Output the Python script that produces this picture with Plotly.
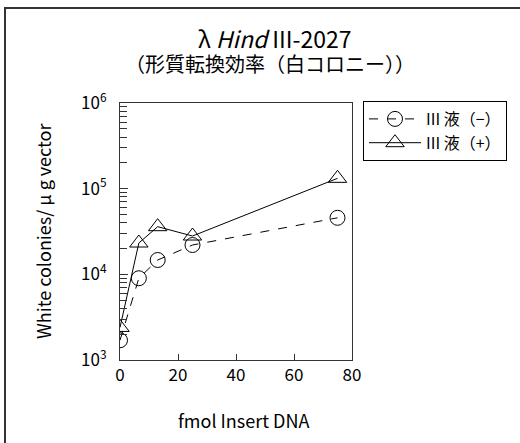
import plotly.graph_objects as go

x_minus = [0, 6.5, 13, 25, 75]
y_minus = [1700, 9000, 14700, 22000, 45700]
x_plus = [0, 6.5, 13, 25, 75]
y_plus = [2400, 23200, 36000, 28000, 132000]
name_minus = "III 液（−）"
name_plus = "III 液（+）"
xticks = [0, 20, 40, 60, 80]
ydecades = [1e3, 1e4, 1e5, 1e6]
ydec_labels = ["10<sup>3</sup>", "10<sup>4</sup>", "10<sup>5</sup>", "10<sup>6</sup>"]
title_line1 = "λ <i>Hind</i> III-2027"
title_line2 = "（形質転換効率（白コロニー））"
x_title = "fmol Insert DNA"
y_title = "White colonies/ μ g vector"

FONT = "Noto Sans CJK JP, Noto Sans, sans-serif"
AX = "#333333"

fig = go.Figure()
fig.add_trace(go.Scatter(
    x=x_minus, y=y_minus, name=name_minus, mode="lines+markers",
    line=dict(color="black", width=1, dash="dash"),
    marker=dict(symbol="circle-open", size=15, color="black", line=dict(width=1)),
    hoverinfo="skip",
))
fig.add_trace(go.Scatter(
    x=x_plus, y=y_plus, name=name_plus, mode="lines+markers",
    line=dict(color="black", width=1),
    marker=dict(symbol="triangle-up-open", size=16, color="black", line=dict(width=1)),
    hoverinfo="skip",
))

W, H = 520, 443
L, R, T, B = 120, 352, 103, 360

def px(p):
    return (p - L) / (R - L)

def py(p):
    return (B - p) / (B - T)

fig.update_layout(
    width=W, height=H,
    margin=dict(l=L, r=W - R, t=T, b=H - B),
    paper_bgcolor="white", plot_bgcolor="white",
    font=dict(family=FONT, size=16, color="black"),
    showlegend=True, hovermode=False, dragmode=False,
    legend=dict(
        x=px(363), y=py(101), xanchor="left", yanchor="top",
        bordercolor="black", borderwidth=1, bgcolor="white",
        font=dict(size=16), itemwidth=52, tracegroupgap=0,
    ),
    xaxis=dict(
        range=[0, 80], tickvals=xticks, ticks="inside", ticklen=6, tickwidth=1,
        tickcolor=AX, showline=True, linecolor=AX, linewidth=1,
        mirror=True, showgrid=False, zeroline=False, showspikes=False,
        tickfont=dict(size=17),
    ),
    yaxis=dict(
        type="log", range=[3, 6], tickvals=ydecades, ticktext=ydec_labels,
        ticks="inside", ticklen=8, tickcolor=AX,
        minor=dict(ticks="inside", ticklen=7, tickcolor=AX, dtick="D1", showgrid=False),
        showline=True, linecolor=AX, linewidth=1, mirror=True,
        showgrid=False, zeroline=False, showspikes=False,
        tickfont=dict(size=17), ticklabelstandoff=9,
    ),
    annotations=[
        dict(text=title_line1, xref="paper", yref="paper", x=px(275), y=py(38),
             xanchor="center", yanchor="middle", showarrow=False,
             font=dict(size=23)),
        dict(text=title_line2, xref="paper", yref="paper", x=px(270), y=py(63),
             xanchor="center", yanchor="middle", showarrow=False,
             font=dict(size=20)),
        dict(text=x_title, xref="paper", yref="paper",
             x=px(243), y=py(420), xanchor="center", yanchor="middle",
             showarrow=False, font=dict(size=18)),
        dict(text=y_title, xref="paper", yref="paper",
             x=px(43), y=py(231), xanchor="center", yanchor="middle",
             textangle=-90, showarrow=False, font=dict(size=18)),
    ],
    shapes=[
        dict(type="rect", xref="paper", yref="paper",
             x0=px(5), x1=px(540), y0=py(460), y1=py(8),
             line=dict(color="#333", width=2)),
    ],
)

fig.write_html("out.html", config={"displayModeBar": False, "staticPlot": True},
               post_script="document.body.style.margin='0';")
